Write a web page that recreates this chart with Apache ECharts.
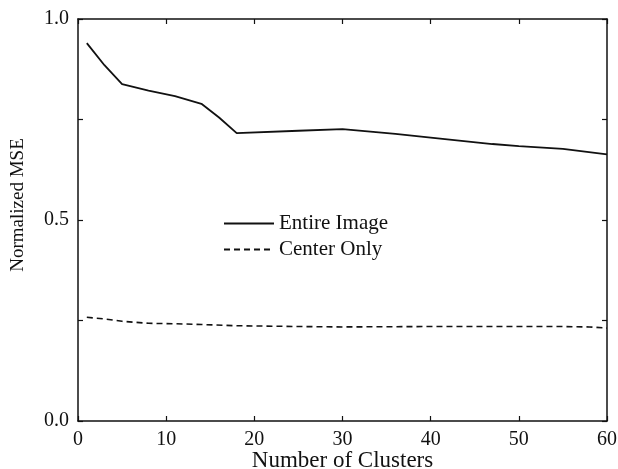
<!DOCTYPE html>
<html>
<head>
<meta charset="utf-8">
<script src="https://cdn.jsdelivr.net/npm/echarts@6/dist/echarts.min.js"></script>
<style>
  html, body { margin: 0; padding: 0; background: #fff; }
  #chart { width: 618px; height: 469px; }
</style>
</head>
<body>
<div id="chart"></div>
<script>
// values
var entireImage = [
    [1, 0.94], [3, 0.885], [5, 0.838], [8, 0.822], [11, 0.808], [14, 0.789],
    [16, 0.755], [18, 0.716], [25, 0.722], [30, 0.726], [36, 0.714], [40, 0.705],
    [47, 0.689], [50, 0.684], [55, 0.677], [60, 0.663]
];
var centerOnly = [
    [1, 0.258], [3, 0.254], [5, 0.248], [8, 0.243], [11, 0.242], [14, 0.240],
    [18, 0.237], [25, 0.235], [30, 0.234], [40, 0.235], [50, 0.235], [55, 0.235],
    [58, 0.234], [60, 0.231]
];
var seriesNames = ['Entire Image', 'Center Only'];
var xTicks = [0, 10, 20, 30, 40, 50, 60];
var yLabels = ['0.0', '0.5', '1.0'];

var font = 'Liberation Serif, Times New Roman, serif';
var ink = '#111';

var chart = echarts.init(document.getElementById('chart'));

var axisCommon = {
    axisLine: {show: true, onZero: false, lineStyle: {color: ink, width: 1.5}},
    axisTick: {show: true, inside: true, length: 5, lineStyle: {color: ink, width: 1.2}},
    splitLine: {show: false}
};

chart.setOption({
    animation: false,
    backgroundColor: '#fff',
    textStyle: {fontFamily: font, color: ink},
    grid: {left: 78, right: 11, top: 19, bottom: 48, outerBoundsMode: 'none', containLabel: false},
    legend: {
        orient: 'vertical',
        left: 218,
        top: 208,
        itemWidth: 50,
        itemHeight: 14,
        itemGap: 5,
        data: seriesNames,
        itemStyle: {opacity: 0},
        textStyle: {fontFamily: font, fontSize: 21, color: ink}
    },
    xAxis: [
        Object.assign({
            type: 'value', min: 0, max: 60, interval: 10,
            name: 'Number of Clusters', nameLocation: 'middle', nameGap: 28,
            nameMoveOverlap: false,
            nameTextStyle: {fontFamily: font, fontSize: 23, color: ink},
            axisLabel: {
                fontFamily: font, fontSize: 20, color: ink, margin: 9,
                formatter: function (v) { return xTicks.indexOf(v) >= 0 ? String(v) : ''; }
            }
        }, axisCommon),
        Object.assign({
            type: 'value', min: 0, max: 60, interval: 10, position: 'top',
            axisLabel: {show: false}
        }, axisCommon)
    ],
    yAxis: [
        Object.assign({
            type: 'value', min: 0, max: 1, interval: 0.25,
            name: 'Normalized MSE', nameLocation: 'middle', nameGap: 50,
            nameMoveOverlap: false,
            nameTextStyle: {fontFamily: font, fontSize: 19, color: ink, padding: [0, 0, 0, 30]},
            axisLabel: {
                fontFamily: font, fontSize: 20, color: ink, margin: 9,
                formatter: function (v) {
                    var s = v.toFixed(1);
                    return (Math.abs(v * 2 - Math.round(v * 2)) < 1e-6 && yLabels.indexOf(s) >= 0) ? s : '';
                }
            }
        }, axisCommon),
        Object.assign({
            type: 'value', min: 0, max: 1, interval: 0.25, position: 'right',
            axisLabel: {show: false}
        }, axisCommon)
    ],
    series: [
        {
            name: seriesNames[0],
            type: 'line',
            data: entireImage,
            symbol: 'none',
            lineStyle: {color: ink, width: 1.8, type: 'solid'},
            itemStyle: {color: ink}
        },
        {
            name: seriesNames[1],
            type: 'line',
            data: centerOnly,
            symbol: 'none',
            lineStyle: {color: ink, width: 1.6, type: [6, 4]},
            itemStyle: {color: ink}
        }
    ]
});
</script>
</body>
</html>
